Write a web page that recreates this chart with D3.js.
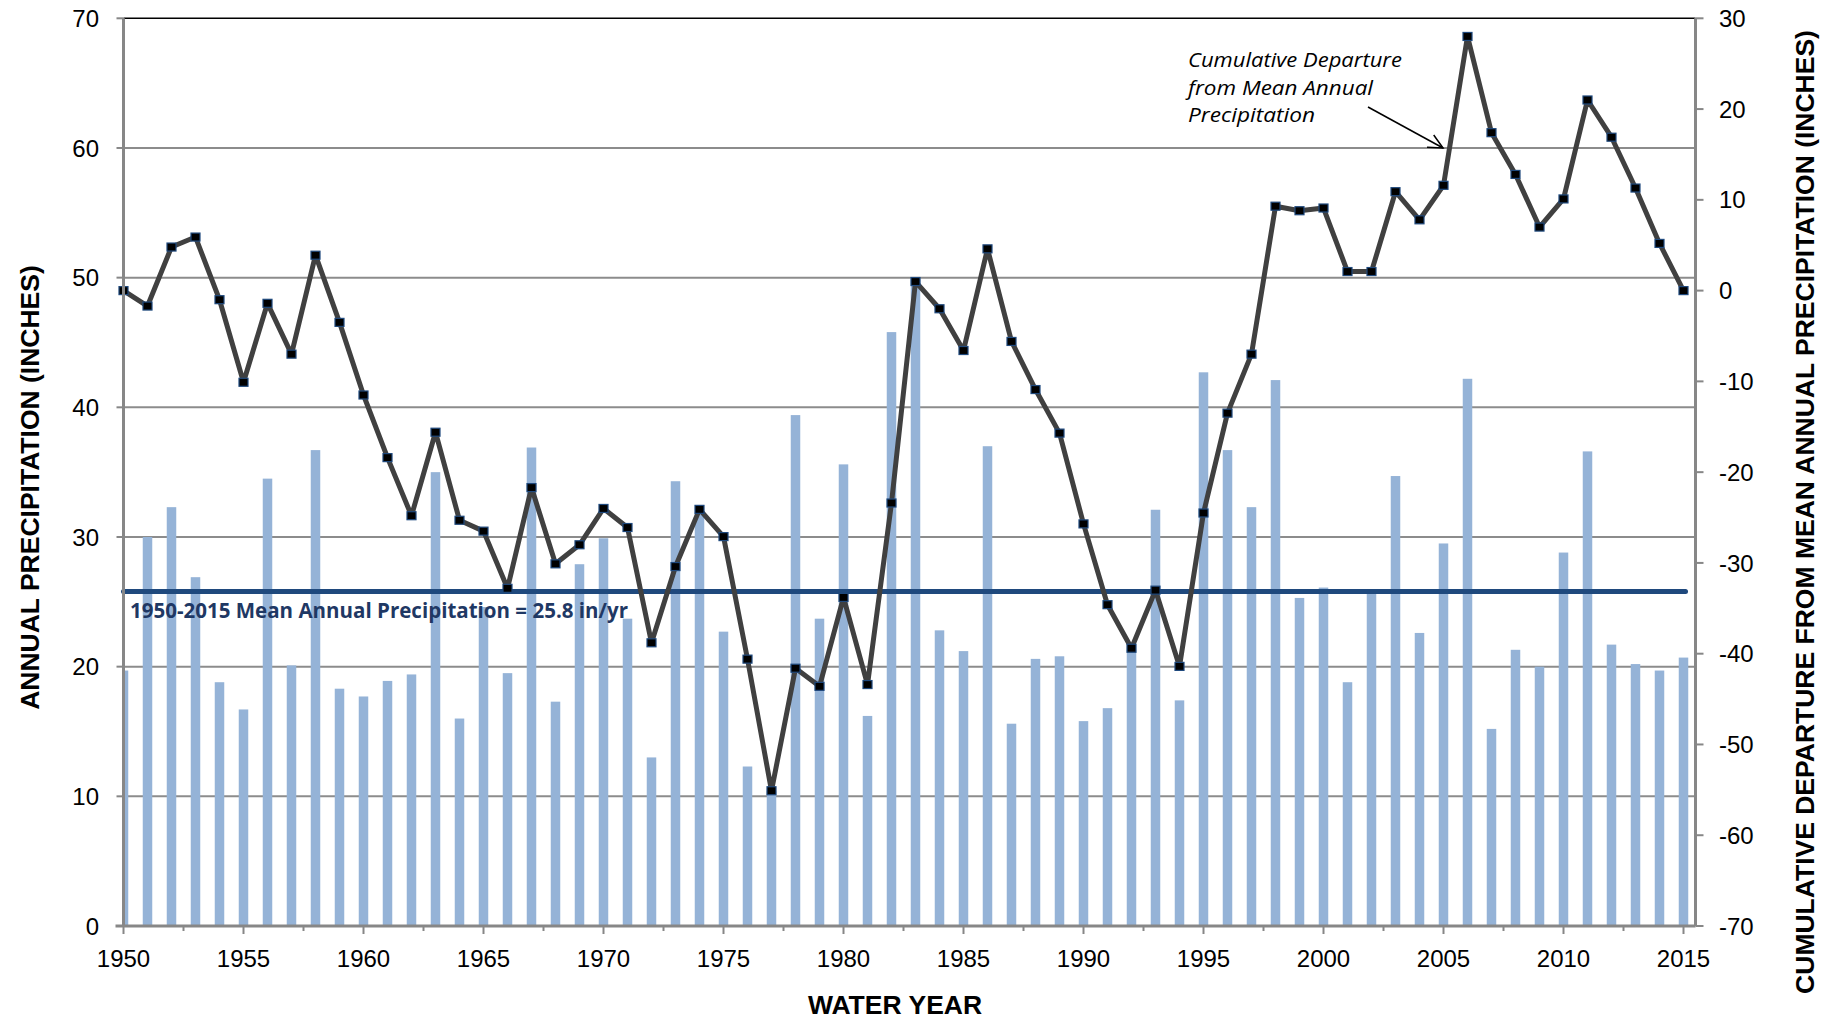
<!DOCTYPE html>
<html>
<head>
<meta charset="utf-8">
<script src="https://cdn.jsdelivr.net/npm/d3@7"></script>
<style>
  body { margin: 0; background: #fff; }
  svg { display: block; }
  .tick-label { font-family: "Liberation Sans", Arial, sans-serif; font-size: 24px; fill: #000; }
  .axis-title { font-family: "Liberation Sans", Arial, sans-serif; font-size: 26.5px; font-weight: bold; fill: #000; }
</style>
</head>
<body>
<svg id="chart" width="1837" height="1020"></svg>
<script>
// 1: DATA
const years = d3.range(1950, 2016);

// annual precipitation, inches (bars, left axis)
const precip = [
  19.7, 30.0, 32.3, 26.9, 18.8, 16.7, 34.5, 20.1, 36.7, 18.3,
  17.7, 18.9, 19.4, 35.0, 16.0, 24.6, 19.5, 36.9, 17.3, 27.9,
  29.9, 23.7, 13.0, 34.3, 31.9, 22.7, 12.3, 10.4, 39.4, 23.7,
  35.6, 16.2, 45.8, 50.0, 22.8, 21.2, 37.0, 15.6, 20.6, 20.8,
  15.8, 16.8, 21.3, 32.1, 17.4, 42.7, 36.7, 32.3, 42.1, 25.3,
  26.1, 18.8, 25.8, 34.7, 22.6, 29.5, 42.2, 15.2, 21.3, 20.0,
  28.8, 36.6, 21.7, 20.2, 19.7, 20.7
];

// cumulative departure from mean, inches (line, right axis)
const cumDeparture = [
  0.0, -1.7, 4.8, 5.9, -1.0, -10.1, -1.4, -7.0, 3.9, -3.5,
  -11.5, -18.4, -24.8, -15.6, -25.3, -26.5, -32.8, -21.7, -30.1, -28.0,
  -24.0, -26.1, -38.8, -30.4, -24.1, -27.1, -40.6, -55.1, -41.6, -43.6,
  -33.8, -43.4, -23.4, 1.0, -2.0, -6.6, 4.6, -5.6, -10.9, -15.7,
  -25.7, -34.6, -39.4, -33.0, -41.4, -24.5, -13.5, -7.0, 9.3, 8.8,
  9.1, 2.1, 2.1, 10.9, 7.8, 11.6, 28.0, 17.4, 12.8, 7.0,
  10.1, 21.0, 16.9, 11.3, 5.2, 0.0
];

const meanPrecip = 25.8;
const leftTicks = [0, 10, 20, 30, 40, 50, 60, 70];
const rightTicks = [30, 20, 10, 0, -10, -20, -30, -40, -50, -60, -70];
const yearTicks = d3.range(1950, 2016, 5);
const minorYearTicks = d3.range(1952.5, 2015, 5);

const meanLabel = "1950-2015 Mean Annual Precipitation = 25.8 in/yr";
const noteLines = ["Cumulative Departure", "from Mean Annual", "Precipitation"];

// 2: LAYOUT
const margin = { top: 18.3, right: 141.5, bottom: 94, left: 123.5 };
const W = 1837, H = 1020;
const width = W - margin.left - margin.right;
const height = H - margin.top - margin.bottom;

const svg = d3.select("#chart");
const g = svg.append("g").attr("transform", `translate(${margin.left},${margin.top})`);

// 3: SCALES
const x = d3.scaleLinear().domain([1950, 2015.5]).range([0, width]);
const yL = d3.scaleLinear().domain([0, 70]).range([height, 0]);
const yR = d3.scaleLinear().domain([-70, 30]).range([height, 0]);

svg.append("defs").append("clipPath").attr("id", "plotClip")
  .append("rect").attr("x", 0).attr("y", 0).attr("width", width).attr("height", height);

// gridlines
g.append("g")
  .selectAll("line")
  .data(leftTicks.filter(d => d > 0 && d < 70))
  .join("line")
  .attr("x1", 0).attr("x2", width)
  .attr("y1", d => yL(d)).attr("y2", d => yL(d))
  .attr("stroke", "#8c8c8c").attr("stroke-width", 2);

g.append("line")
  .attr("x1", 0).attr("x2", width)
  .attr("y1", yL(70)).attr("y2", yL(70))
  .attr("stroke", "#000").attr("stroke-width", 1.5);

// 4: BARS
const barW = 9.5;
g.append("g").attr("clip-path", "url(#plotClip)")
  .selectAll("rect")
  .data(years)
  .join("rect")
  .attr("x", (d) => x(d) - barW / 2)
  .attr("width", barW)
  .attr("y", (d, i) => yL(precip[i]))
  .attr("height", (d, i) => yL(0) - yL(precip[i]))
  .attr("fill", "#95b3d7");

// mean line
g.append("line")
  .attr("x1", 0).attr("x2", x(2015) + 2)
  .attr("y1", yL(meanPrecip)).attr("y2", yL(meanPrecip))
  .attr("stroke", "#1f497d").attr("stroke-width", 5)
  .attr("stroke-linecap", "round");

g.append("text")
  .attr("x", 6.5)
  .attr("y", yL(meanPrecip) + 27)
  .attr("textLength", 498)
  .attr("lengthAdjust", "spacingAndGlyphs")
  .style("font-family", "'Open Sans', 'Noto Sans', sans-serif")
  .style("font-size", "21px")
  .style("font-weight", "bold")
  .style("fill", "#1f3864")
  .text(meanLabel);

// 5: CUMULATIVE DEPARTURE LINE
const line = d3.line()
  .x(d => x(d))
  .y((d, i) => yR(cumDeparture[i]));

g.append("path")
  .datum(years)
  .attr("d", line)
  .attr("fill", "none")
  .attr("stroke", "#404040")
  .attr("stroke-width", 5)
  .attr("stroke-linejoin", "round");

g.append("g")
  .selectAll("rect")
  .data(years)
  .join("rect")
  .attr("x", d => x(d) - 4.5)
  .attr("y", (d, i) => yR(cumDeparture[i]) - 4)
  .attr("width", 9)
  .attr("height", 8)
  .attr("fill", "#000")
  .attr("stroke", "#1f497d")
  .attr("stroke-width", 1.2);

// 6: AXES
const axisColor = "#878787";

// left axis
g.append("line")
  .attr("x1", 0).attr("x2", 0).attr("y1", 0).attr("y2", height)
  .attr("stroke", axisColor).attr("stroke-width", 3);
g.append("g").selectAll("line").data(leftTicks).join("line")
  .attr("x1", -7).attr("x2", 0)
  .attr("y1", d => yL(d)).attr("y2", d => yL(d))
  .attr("stroke", axisColor).attr("stroke-width", 2);
g.append("g").selectAll("text").data(leftTicks).join("text")
  .attr("class", "tick-label")
  .attr("x", -24.5)
  .attr("y", d => yL(d))
  .attr("dy", "0.36em")
  .attr("text-anchor", "end")
  .text(d => d);

// right axis
g.append("line")
  .attr("x1", width).attr("x2", width).attr("y1", 0).attr("y2", height)
  .attr("stroke", axisColor).attr("stroke-width", 3);
g.append("g").selectAll("line").data(rightTicks).join("line")
  .attr("x1", width).attr("x2", width + 8)
  .attr("y1", d => yR(d)).attr("y2", d => yR(d))
  .attr("stroke", axisColor).attr("stroke-width", 2);
g.append("g").selectAll("text").data(rightTicks).join("text")
  .attr("class", "tick-label")
  .attr("x", width + 23.5)
  .attr("y", d => yR(d))
  .attr("dy", "0.36em")
  .attr("text-anchor", "start")
  .text(d => d < 0 ? "-" + Math.abs(d) : d);

// bottom axis
g.append("line")
  .attr("x1", -8).attr("x2", width).attr("y1", height).attr("y2", height)
  .attr("stroke", axisColor).attr("stroke-width", 3);
g.append("g").selectAll("line").data(yearTicks).join("line")
  .attr("x1", d => x(d)).attr("x2", d => x(d))
  .attr("y1", height).attr("y2", height + 8)
  .attr("stroke", axisColor).attr("stroke-width", 2);
g.append("g").selectAll("line").data(minorYearTicks).join("line")
  .attr("x1", d => x(d)).attr("x2", d => x(d))
  .attr("y1", height).attr("y2", height + 5)
  .attr("stroke", axisColor).attr("stroke-width", 2);
g.append("g").selectAll("text").data(yearTicks).join("text")
  .attr("class", "tick-label")
  .attr("x", d => x(d))
  .attr("y", height + 41)
  .attr("text-anchor", "middle")
  .text(d => d);

// 7: TITLES
svg.append("text")
  .attr("class", "axis-title")
  .attr("transform", `translate(39, 487.5) rotate(-90)`)
  .attr("text-anchor", "middle")
  .text("ANNUAL PRECIPITATION (INCHES)");

svg.append("text")
  .attr("class", "axis-title")
  .attr("transform", `translate(1814, 512) rotate(-90)`)
  .attr("text-anchor", "middle")
  .text("CUMULATIVE DEPARTURE FROM MEAN ANNUAL PRECIPITATION (INCHES)");

svg.append("text")
  .attr("class", "axis-title")
  .attr("x", 895)
  .attr("y", 1014)
  .attr("text-anchor", "middle")
  .text("WATER YEAR");

// 8: ANNOTATION
const noteWidths = [214, 185, 127];
svg.append("g").selectAll("text").data(noteLines).join("text")
  .attr("x", 1188)
  .attr("y", (d, i) => 67 + i * 27.5)
  .attr("textLength", (d, i) => noteWidths[i])
  .attr("lengthAdjust", "spacingAndGlyphs")
  .style("font-family", "'Open Sans', 'Noto Sans', sans-serif")
  .style("font-size", "19.5px")
  .style("font-style", "italic")
  .style("fill", "#000")
  .text(d => d);

const ax1 = [1368, 107], ax2 = [1443, 148];
svg.append("line")
  .attr("x1", ax1[0]).attr("y1", ax1[1]).attr("x2", ax2[0]).attr("y2", ax2[1])
  .attr("stroke", "#000").attr("stroke-width", 1.5);
const ang = Math.atan2(ax2[1] - ax1[1], ax2[0] - ax1[0]);
const headLen = 16;
svg.append("path")
  .attr("d", `M${ax2[0] - headLen * Math.cos(ang - 0.45)},${ax2[1] - headLen * Math.sin(ang - 0.45)}
              L${ax2[0]},${ax2[1]}
              L${ax2[0] - headLen * Math.cos(ang + 0.45)},${ax2[1] - headLen * Math.sin(ang + 0.45)}`)
  .attr("fill", "none")
  .attr("stroke", "#000")
  .attr("stroke-width", 1.5);
</script>
</body>
</html>
